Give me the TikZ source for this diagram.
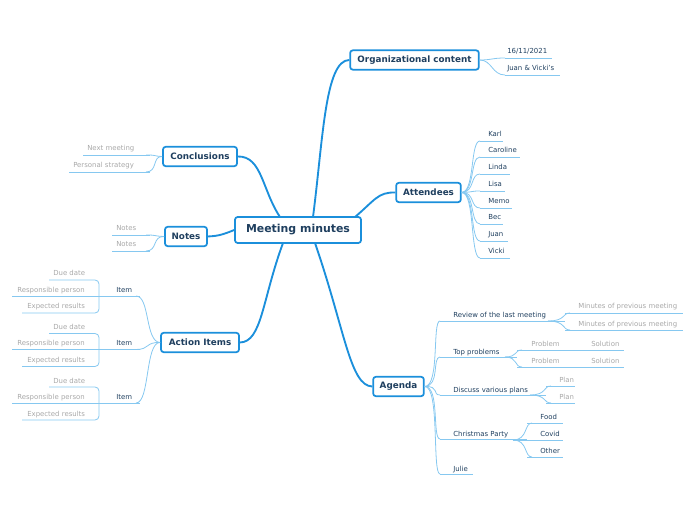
\documentclass[tikz,border=0pt]{standalone}
\usepackage{fontspec}
\setmainfont{DejaVu Sans}
\begin{document}
\begin{tikzpicture}[x=0.75pt,y=-0.75pt,
  main/.style={draw=mb,line width=1.3pt,rounded corners=2pt,fill=white,text=tx,font=\bfseries\fontsize{6.6}{8}\selectfont,inner sep=0pt,minimum height=14.5pt},
  thick/.style={draw=mb,line width=1.4pt},
  thin/.style={draw=lb,line width=0.6pt},
  lf/.style={anchor=base west,inner sep=0pt,font=\fontsize{5.2}{6}\selectfont,text=tx},
  gl/.style={lf,text=gr}]
\definecolor{mb}{HTML}{1B8FDB}
\definecolor{lb}{HTML}{86C8F0}
\definecolor{tx}{HTML}{1F3F5F}
\definecolor{gr}{HTML}{A8A8A8}
\useasboundingbox (0,0) rectangle (696,520);
% main nodes
\node[main,minimum width=94.5pt,minimum height=19.5pt,font=\bfseries\fontsize{8.2}{10}\selectfont] (c) at (298,230) {Meeting minutes};
\node[main,minimum width=96.5pt] (org) at (414.5,60) {Organizational content};
\node[main,minimum width=48.5pt] (att) at (428.5,192.5) {Attendees};
\node[main,minimum width=38pt] (ag) at (398.5,386.5) {Agenda};
\node[main,minimum width=58.5pt] (ai) at (200,342.5) {Action Items};
\node[main,minimum width=31.5pt] (no) at (186,236.5) {Notes};
\node[main,minimum width=55.5pt] (co) at (200,156.5) {Conclusions};
% main connectors
\draw[thick] (313,217) .. controls (323,140) and (325,60) .. (org.west);
\draw[thick] (355,217) .. controls (375,200) and (378,192) .. (att.west);
\draw[thick] (315,243) .. controls (345,330) and (350,386) .. (ag.west);
\draw[thick] (283,243) .. controls (262,300) and (262,342) .. (ai.east);
\draw[thick] (c.west) .. controls (220,236) and (215,236) .. (no.east);
\draw[thick] (280,217) .. controls (262,190) and (262,156) .. (co.east);
% org leaves
\node[lf] (o1) at (507,54) {16/11/2021};
\node[lf] (o2) at (507,71) {Juan \& Vicki's};
\draw[thin] (505,58)--(552,58) (505,75)--(560,75);
\foreach \y in {58,75} \draw[thin] (org.east) .. controls (492,60) and (492,\y) .. (505,\y);
% attendees
\foreach \n/\y/\w in {Karl/134/503,Caroline/150/520,Linda/167/510,Lisa/184/505,Memo/201/512,Bec/217/503,Juan/234/508,Vicki/251/510}{
  \node[lf] (a\n) at (488,\y+3) {\n};
  \draw[thin] (480,\y+7)--(\w,\y+7);
  \draw[thin] (att.east) .. controls (475,192) and (470,\y+7) .. (480,\y+7);
}
% agenda
\foreach \t/\y/\w in {Review of the last meeting/315/565,Top problems/351/517,Discuss various plans/389/546,Christmas Party/433/527,Julie/468/473}{
  \node[lf] at (453,\y+3) {\t};
  \draw[thin] (440,\y+6)--(\w,\y+6);
  \draw[thin] (ag.east) .. controls (440,386) and (432,\y+6) .. (440,\y+6);
}
% review
\foreach \y in {306,323}{
  \node[gl] at (578,\y+3) {Minutes of previous meeting};
  \draw[thin] (565,\y+7)--(683,\y+7);
  \draw[thin] (548,321) .. controls (566,321) and (562,\y+7) .. (570,\y+7);
}
% top problems
\foreach \y in {343,360}{
  \node[gl] at (531,\y+3) {Problem};
  \node[gl] at (591,\y+3) {Solution};
  \draw[thin] (517,\y+7)--(624,\y+7);
  \draw[thin] (505,357) .. controls (518,357) and (514,\y+7) .. (522,\y+7);
}
% plans
\foreach \y in {379,396}{
  \node[gl] at (559,\y+3) {Plan};
  \draw[thin] (546,\y+7)--(575,\y+7);
  \draw[thin] (530,395) .. controls (547,395) and (543,\y+7) .. (551,\y+7);
}
% christmas
\foreach \t/\y in {Food/416,Covid/433,Other/450}{
  \node[lf] at (540,\y+3) {\t};
  \draw[thin] (527,\y+7)--(563,\y+7);
  \draw[thin] (513,440) .. controls (528,440) and (524,\y+7) .. (532,\y+7);
}
\draw[lb,line width=1pt] (513,440)--(527,440);
% action items
\foreach \d in {0,53.5,107}{
  \node[lf] at (116,289+\d+3) {Item};
  \draw[thin] (100,296+\d)--(140,296+\d);
  \draw[thin] (ai.west) .. controls (145,342) and (150,296+\d) .. (136,296+\d);
  \node[gl] at (53,273+\d+3) {Due date};
  \node[gl] at (17,289+\d+3) {Responsible person};
  \node[gl] at (27,306+\d+3) {Expected results};
  \draw[thin,rounded corners=3pt] (49,280+\d)--(99,280+\d) -- (99,313+\d) -- (22,313+\d);
  \draw[thin] (12,296+\d)--(100,296+\d);
}
% notes
\foreach \y in {228,244}{
  \node[gl] at (116,\y+3) {Notes};
  \draw[thin] (112,\y+7)--(150,\y+7);
  \draw[thin] (no.west) .. controls (152,236) and (158,\y+7) .. (146,\y+7);
}
% conclusions
\node[gl] (n1) at (87,151) {Next meeting};
\node[gl] (n2) at (73,168) {Personal strategy};
\draw[thin] (83,155)--(150,155) (69,172)--(150,172);
\foreach \y in {155,172} \draw[thin] (co.west) .. controls (152,156) and (158,\y) .. (146,\y);
\end{tikzpicture}
\end{document}
